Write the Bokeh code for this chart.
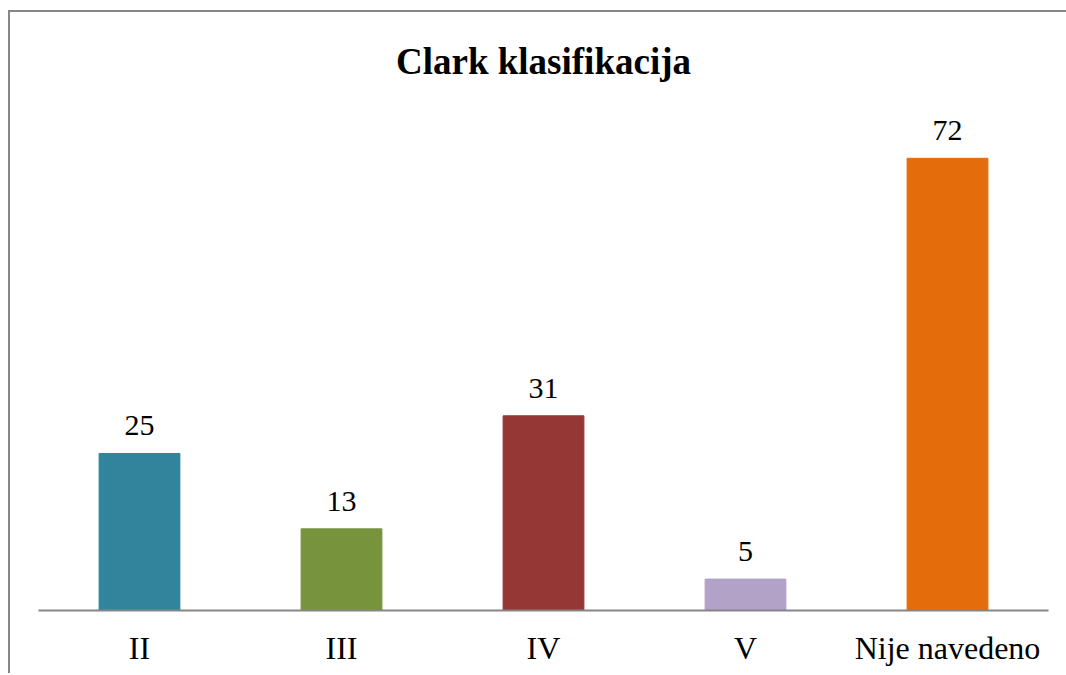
from bokeh.plotting import figure
from bokeh.models import ColumnDataSource, Range1d, FactorRange, LabelSet
from bokeh.embed import file_html
from bokeh.resources import INLINE

categories = ["II", "III", "IV", "V", "Nije navedeno"]
counts = [25, 13, 31, 5, 72]
colors = ["#31849B", "#77933C", "#953735", "#B3A2C7", "#E46C0A"]
labels = [str(c) for c in counts]

src = ColumnDataSource(dict(cat=categories, val=counts, color=colors, lab=labels))

SERIF = "Times New Roman"

p = figure(width=1060, height=663, x_range=FactorRange(*categories, range_padding=0),
           y_range=Range1d(0, 81.2), output_backend="svg", toolbar_location=None,
           min_border_left=28, min_border_right=22, min_border_bottom=65, min_border_top=88)

p.title.text = "Clark klasifikacija"
p.title.align = "center"
p.title.text_font = SERIF
p.title.text_font_size = "37px"
p.title.text_font_style = "bold"
p.title.text_color = "black"
p.title.standoff = 38

p.vbar(x="cat", top="val", width=0.4, color="color", source=src)
p.add_layout(LabelSet(x="cat", y="val", text="lab", source=src, text_align="center",
                      text_baseline="alphabetic", y_offset=18, text_font=SERIF,
                      text_font_size="30px", text_color="black"))

p.yaxis.visible = False
p.xgrid.visible = False
p.ygrid.visible = False
p.outline_line_color = None
p.xaxis.axis_line_color = "#868686"
p.xaxis.axis_line_width = 2
p.xaxis.major_tick_line_color = None
p.xaxis.minor_tick_line_color = None
p.xaxis.major_label_text_font = SERIF
p.xaxis.major_label_text_font_size = "32px"
p.xaxis.major_label_text_color = "black"
p.xaxis.major_label_standoff = 13
p.styles = {"border-left": "2px solid #868686", "border-top": "2px solid #868686",
            "margin-top": "10px", "margin-left": "8px"}

open("out.html", "w").write(file_html(p, INLINE))
